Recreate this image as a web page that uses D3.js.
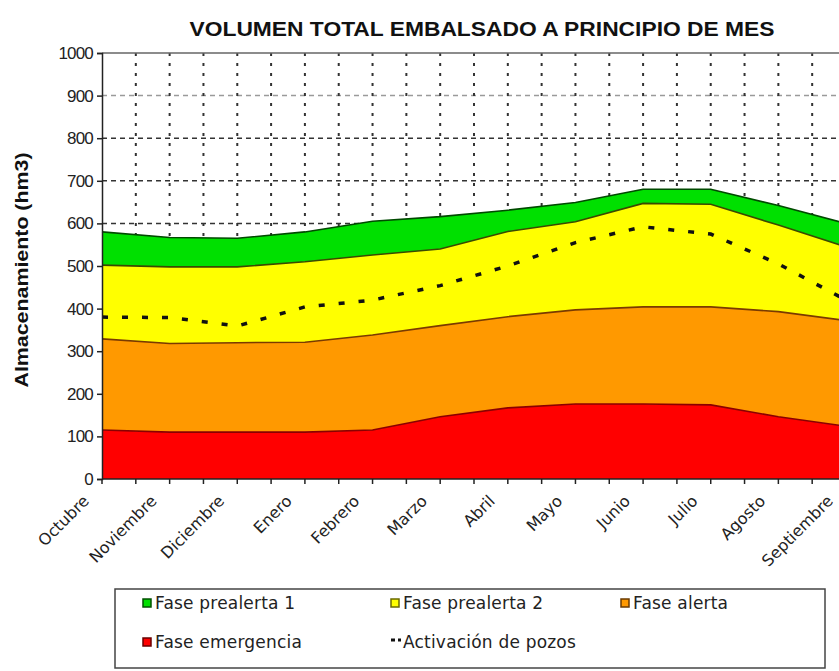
<!DOCTYPE html>
<html>
<head>
<meta charset="utf-8">
<script src="https://cdn.jsdelivr.net/npm/d3@7"></script>
<style>
  body { margin: 0; background: #fff; }
  svg { display: block; }
</style>
</head>
<body>
<svg id="chart"></svg>
<script>
// Months (category axis)
const months = ["Octubre", "Noviembre", "Diciembre", "Enero", "Febrero", "Marzo",
                "Abril", "Mayo", "Junio", "Julio", "Agosto", "Septiembre"];

// Upper limit of each phase (hm3)
const emergencia = [115, 110, 110, 110, 115, 146, 167, 176, 176, 174, 146, 124];
const alerta     = [329, 318, 320, 321, 338, 360, 381, 397, 404, 404, 393, 372];
const prealerta2 = [502, 498, 498, 510, 526, 540, 581, 604, 647, 645, 596, 545];
const prealerta1 = [580, 567, 565, 580, 605, 616, 631, 649, 680, 680, 642, 600];
const pozos      = [380, 379, 359, 404, 420, 454, 500, 555, 592, 575, 505, 420];

const yTicks = [0, 100, 200, 300, 400, 500, 600, 700, 800, 900, 1000];

const width = 839, height = 671;
const margin = { top: 53, left: 102, bottom: 479, right: 846 };

const svg = d3.select("#chart")
    .attr("width", width)
    .attr("height", height)
    .style("font-family", "'Liberation Sans', Arial, sans-serif");

const x = d3.scalePoint().domain(months).range([margin.left, margin.right]).padding(0);
const y = d3.scaleLinear().domain([0, 1000]).range([margin.bottom, margin.top]);
const step = x.step();

// Grid: horizontal dashed lines
svg.append("g")
    .selectAll("line")
    .data(yTicks.filter(d => d > 0 && d < 1000))
    .join("line")
    .attr("x1", margin.left).attr("x2", margin.right)
    .attr("y1", d => y(d)).attr("y2", d => y(d))
    .attr("stroke", d => d === 900 ? "#9a9a9a" : "#333")
    .attr("stroke-width", 1.5)
    .attr("stroke-dasharray", "5,4");

// Grid: vertical dotted lines at every half-month tick
const halfTicks = d3.range(1, (months.length - 1) * 2 + 1).map(i => margin.left + i * step / 2);
svg.append("g")
    .selectAll("line")
    .data(halfTicks)
    .join("line")
    .attr("x1", d => d).attr("x2", d => d)
    .attr("y1", margin.top).attr("y2", margin.bottom)
    .attr("stroke", "#333")
    .attr("stroke-width", 2)
    .attr("stroke-dasharray", "3,7");

// Plot border (top)
svg.append("line")
    .attr("x1", margin.left).attr("x2", margin.right)
    .attr("y1", margin.top).attr("y2", margin.top)
    .attr("stroke", "#666").attr("stroke-width", 1.5);

// Stacked phase areas
const zeros = months.map(() => 0);
const layers = [
    { name: "Fase emergencia", lo: zeros, hi: emergencia, color: "#ff0000", edge: "#8a0000" },
    { name: "Fase alerta", lo: emergencia, hi: alerta, color: "#ff9900", edge: "#7a3a00" },
    { name: "Fase prealerta 2", lo: alerta, hi: prealerta2, color: "#ffff00", edge: "#3a4a00" },
    { name: "Fase prealerta 1", lo: prealerta2, hi: prealerta1, color: "#00e000", edge: "#004a00" }
];

const area = d3.area()
    .x((d, i) => x(months[i]))
    .y0(d => y(d[0]))
    .y1(d => y(d[1]));

const topLine = d3.line()
    .x((d, i) => x(months[i]))
    .y(d => y(d));

layers.forEach(l => {
    const pts = months.map((m, i) => [l.lo[i], l.hi[i]]);
    svg.append("path")
        .datum(pts)
        .attr("d", area)
        .attr("fill", l.color);
});
layers.forEach(l => {
    svg.append("path")
        .datum(l.hi)
        .attr("d", topLine)
        .attr("fill", "none")
        .attr("stroke", l.edge)
        .attr("stroke-width", 1.6);
});

// Activación de pozos
svg.append("path")
    .datum(pozos)
    .attr("d", topLine)
    .attr("fill", "none")
    .attr("stroke", "#111")
    .attr("stroke-width", 3.5)
    .attr("stroke-dasharray", "6,14");

// Y axis
const yAxis = svg.append("g")
    .attr("transform", `translate(${margin.left},0)`)
    .call(d3.axisLeft(y).tickValues(yTicks).tickFormat(d3.format("d")).tickSize(5).tickPadding(4));
yAxis.select(".domain").attr("stroke", "#222").attr("stroke-width", 1.5);
yAxis.selectAll(".tick line").attr("stroke", "#222").attr("stroke-width", 1.5);
yAxis.selectAll(".tick text")
    .attr("font-size", 17)
    .attr("letter-spacing", -0.8)
    .attr("fill", "#222")
    .style("font-family", "'Liberation Sans', Arial, sans-serif");

// X axis line and ticks
svg.append("line")
    .attr("x1", margin.left).attr("x2", margin.right)
    .attr("y1", margin.bottom).attr("y2", margin.bottom)
    .attr("stroke", "#222").attr("stroke-width", 1.5);
svg.append("g")
    .selectAll("line")
    .data([margin.left].concat(halfTicks))
    .join("line")
    .attr("x1", d => d).attr("x2", d => d)
    .attr("y1", margin.bottom).attr("y2", margin.bottom + 5)
    .attr("stroke", "#222").attr("stroke-width", 1.5);

svg.append("g")
    .selectAll("text")
    .data(months)
    .join("text")
    .attr("transform", d => `translate(${x(d) - 12},${margin.bottom + 23}) rotate(-45)`)
    .attr("text-anchor", "end")
    .attr("font-size", 16)
    .style("font-family", "'DejaVu Sans', sans-serif")
    .attr("fill", "#222")
    .text(d => d);

// Title
svg.append("text")
    .attr("x", 482).attr("y", 36)
    .attr("text-anchor", "middle")
    .attr("font-size", 20)
    .attr("font-weight", "bold")
    .attr("textLength", 585)
    .attr("lengthAdjust", "spacingAndGlyphs")
    .attr("fill", "#111")
    .text("VOLUMEN TOTAL EMBALSADO A PRINCIPIO DE MES");

// Y title
svg.append("text")
    .attr("transform", "translate(28,270) rotate(-90)")
    .attr("text-anchor", "middle")
    .attr("font-size", 19)
    .attr("font-weight", "bold")
    .attr("textLength", 235)
    .attr("lengthAdjust", "spacingAndGlyphs")
    .attr("fill", "#111")
    .text("Almacenamiento (hm3)");

// Legend
const legend = svg.append("g");
legend.append("rect")
    .attr("x", 115).attr("y", 589)
    .attr("width", 710).attr("height", 79)
    .attr("fill", "#fff")
    .attr("stroke", "#444")
    .attr("stroke-width", 1.5);

const legendItems = [
    { name: "Fase prealerta 1", color: "#00e000", edge: "#005000", lx: 143, ly: 603 },
    { name: "Fase prealerta 2", color: "#ffff00", edge: "#6a6a00", lx: 391, ly: 603 },
    { name: "Fase alerta", color: "#ff9900", edge: "#6a3a00", lx: 621, ly: 603 },
    { name: "Fase emergencia", color: "#ff0000", edge: "#6a0000", lx: 143, ly: 642 }
];
legendItems.forEach(it => {
    legend.append("rect")
        .attr("x", it.lx).attr("y", it.ly - 4)
        .attr("width", 8).attr("height", 8)
        .attr("fill", it.color)
        .attr("stroke", it.edge)
        .attr("stroke-width", 1.5);
    legend.append("text")
        .attr("x", it.lx + 12).attr("y", it.ly)
        .attr("dy", "0.35em")
        .attr("font-size", 17)
        .attr("letter-spacing", 0.2)
        .style("font-family", "'DejaVu Sans', sans-serif")
        .attr("fill", "#222")
        .text(it.name);
});
// Activación de pozos legend entry
legend.append("line")
    .attr("x1", 391).attr("x2", 401)
    .attr("y1", 640).attr("y2", 640)
    .attr("stroke", "#111").attr("stroke-width", 3)
    .attr("stroke-dasharray", "4,3");
legend.append("text")
    .attr("x", 403).attr("y", 642)
    .attr("dy", "0.35em")
    .attr("font-size", 17)
    .attr("letter-spacing", 0.2)
    .style("font-family", "'DejaVu Sans', sans-serif")
    .attr("fill", "#222")
    .text("Activación de pozos");
</script>
</body>
</html>
